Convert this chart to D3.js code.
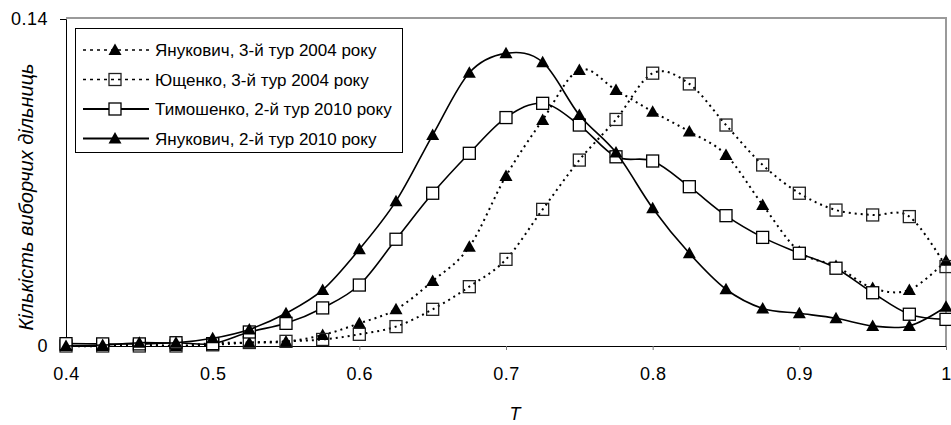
<!DOCTYPE html>
<html>
<head>
<meta charset="utf-8">
<script src="https://cdn.jsdelivr.net/npm/d3@7"></script>
<style>
  body { margin: 0; background: #fff; }
  svg { display: block; }
  .tick text { font-family: "Liberation Sans", Arial, sans-serif; font-size: 18px; letter-spacing: 0.5px; fill: #000; }
  .legendText { font-family: "Liberation Sans Narrow", "Arial Narrow", "Liberation Sans", sans-serif; font-size: 17px; }
  .axisLabel { font-family: "Liberation Sans", Arial, sans-serif; font-style: italic; font-size: 18px; }
</style>
</head>
<body>
<div id="chart"></div>
<script>
// x categories (T)
var tValues = [0.4, 0.425, 0.45, 0.475, 0.5, 0.525, 0.55, 0.575, 0.6, 0.625, 0.65, 0.675, 0.7,
  0.725, 0.75, 0.775, 0.8, 0.825, 0.85, 0.875, 0.9, 0.925, 0.95, 0.975, 1.0];

// series
var yan2004 = [0, 0, 0.001, 0, 0.0012, 0.0014, 0.0019, 0.0047, 0.0097, 0.0157, 0.0278, 0.0425, 0.0728,
  0.0968, 0.1182, 0.1096, 0.1003, 0.0918, 0.0818, 0.0604, 0.0404, 0.0342, 0.0248, 0.024, 0.0365];
var yush2004 = [0, 0, 0, 0, 0.0005, 0.0015, 0.002, 0.0028, 0.005, 0.0083, 0.0157, 0.0254, 0.0371,
  0.0585, 0.0796, 0.097, 0.1168, 0.1122, 0.0946, 0.0775, 0.0654, 0.0582, 0.0561, 0.0554, 0.034];
var tym2010 = [0.001, 0.0009, 0.0009, 0.0014, 0.001, 0.006, 0.0097, 0.0163, 0.0261, 0.0457, 0.0654, 0.0825, 0.0978,
  0.1039, 0.0946, 0.081, 0.0792, 0.0682, 0.0558, 0.0465, 0.0397, 0.0333, 0.0228, 0.0136, 0.0114];
var yan2010 = [0, 0.0004, 0.0014, 0.0014, 0.0033, 0.0071, 0.014, 0.024, 0.0414, 0.062, 0.0903, 0.117, 0.1253,
  0.1215, 0.0989, 0.0828, 0.059, 0.0397, 0.0243, 0.0161, 0.014, 0.0119, 0.0086, 0.0086, 0.0168];

var seriesNames = ["Янукович, 3-й тур 2004 року", "Ющенко, 3-й тур 2004 року",
  "Тимошенко, 2-й тур 2010 року", "Янукович, 2-й тур 2010 року"];

var xTicks = [0.4, 0.5, 0.6, 0.7, 0.8, 0.9, 1.0];
var yTicks = [0, 0.14];

var width = 951, height = 425;
var plotLeft = 66, plotRight = 946, plotTop = 19, plotBottom = 346;

var series = [
  { name: seriesNames[0], values: yan2004, dash: "2,4", marker: "triangle" },
  { name: seriesNames[1], values: yush2004, dash: "2,4", marker: "dotsquare" },
  { name: seriesNames[2], values: tym2010, dash: null, marker: "square" },
  { name: seriesNames[3], values: yan2010, dash: null, marker: "triangle" }
];

var svg = d3.select("#chart").append("svg")
  .attr("width", width)
  .attr("height", height);

var x = d3.scaleLinear().domain([0.4, 1.0]).range([plotLeft, plotRight]);
var y = d3.scaleLinear().domain([0, 0.14]).range([plotBottom, plotTop]);

// plot area frame (grey top / right like Excel)
svg.append("path")
  .attr("d", "M" + plotLeft + "," + (plotTop - 1) + "H" + plotRight + "V" + plotBottom)
  .attr("fill", "none")
  .attr("stroke", "#9a9a9a")
  .attr("stroke-width", 2);

var xAxis = d3.axisBottom(x).tickValues(xTicks).tickSize(4).tickPadding(17)
  .tickFormat(function(d) { return d === 1 ? "1" : d3.format(".1f")(d); });
var yAxis = d3.axisLeft(y).tickValues(yTicks).tickSize(6).tickPadding(12)
  .tickFormat(function(d) { return d === 0 ? "0" : d3.format(".2f")(d); });

svg.append("g")
  .attr("transform", "translate(0," + plotBottom + ")")
  .call(xAxis)
  .call(function(g) { g.select(".domain").attr("stroke", "#000"); g.selectAll(".tick line").attr("stroke", "#777"); });

svg.append("g")
  .attr("transform", "translate(" + plotLeft + ",0)")
  .call(yAxis)
  .call(function(g) { g.select(".domain").attr("stroke", "#000"); });

// axis titles
svg.append("text")
  .attr("class", "axisLabel")
  .attr("x", 515)
  .attr("y", 420)
  .attr("text-anchor", "middle")
  .text("T");

svg.append("text")
  .attr("class", "axisLabel")
  .attr("transform", "translate(33,197)rotate(-90)")
  .attr("text-anchor", "middle")
  .style("font-size", "20px")
  .text("Кількість виборчих дільниць");

var line = d3.line()
  .x(function(d, i) { return x(tValues[i]); })
  .y(function(d) { return y(d); })
  .curve(d3.curveCatmullRom.alpha(0));

function drawMarker(g, type, cx, cy) {
  if (type === "triangle") {
    g.append("path")
      .attr("d", "M" + cx + "," + (cy - 6.5) + "L" + (cx + 6.5) + "," + (cy + 5) + "L" + (cx - 6.5) + "," + (cy + 5) + "Z")
      .attr("fill", "#000");
  } else if (type === "square") {
    g.append("rect")
      .attr("x", cx - 6).attr("y", cy - 6)
      .attr("width", 12).attr("height", 12)
      .attr("fill", "#fff")
      .attr("stroke", "#000")
      .attr("stroke-width", 1.3);
  } else {
    g.append("rect")
      .attr("x", cx - 6).attr("y", cy - 6)
      .attr("width", 12).attr("height", 12)
      .attr("fill", "none")
      .attr("stroke", "#222")
      .attr("stroke-width", 1.3);
  }
}

series.forEach(function(s) {
  var g = svg.append("g");
  g.append("path")
    .datum(s.values)
    .attr("d", line)
    .attr("fill", "none")
    .attr("stroke", "#000")
    .attr("stroke-width", s.dash ? 2 : 1.6)
    .attr("stroke-dasharray", s.dash);
  s.values.forEach(function(v, i) {
    drawMarker(g, s.marker, x(tValues[i]), y(v));
  });
});

// legend
var legend = svg.append("g").attr("transform", "translate(75,28)");
legend.append("rect")
  .attr("x", 0.5).attr("y", 0.5)
  .attr("width", 327).attr("height", 124)
  .attr("fill", "#fff")
  .attr("stroke", "#000");

series.forEach(function(s, i) {
  var ly = 22 + i * 29.5;
  var row = legend.append("g");
  row.append("line")
    .attr("x1", 8).attr("x2", 74)
    .attr("y1", ly).attr("y2", ly)
    .attr("stroke", "#000")
    .attr("stroke-width", s.dash ? 1.5 : 2)
    .attr("stroke-dasharray", s.dash ? "3,4" : null);
  drawMarker(row, s.marker, 40, ly);
  row.append("text")
    .attr("class", "legendText")
    .attr("x", 80)
    .attr("y", ly)
    .attr("dy", "0.36em")
    .text(s.name);
});
</script>
</body>
</html>
